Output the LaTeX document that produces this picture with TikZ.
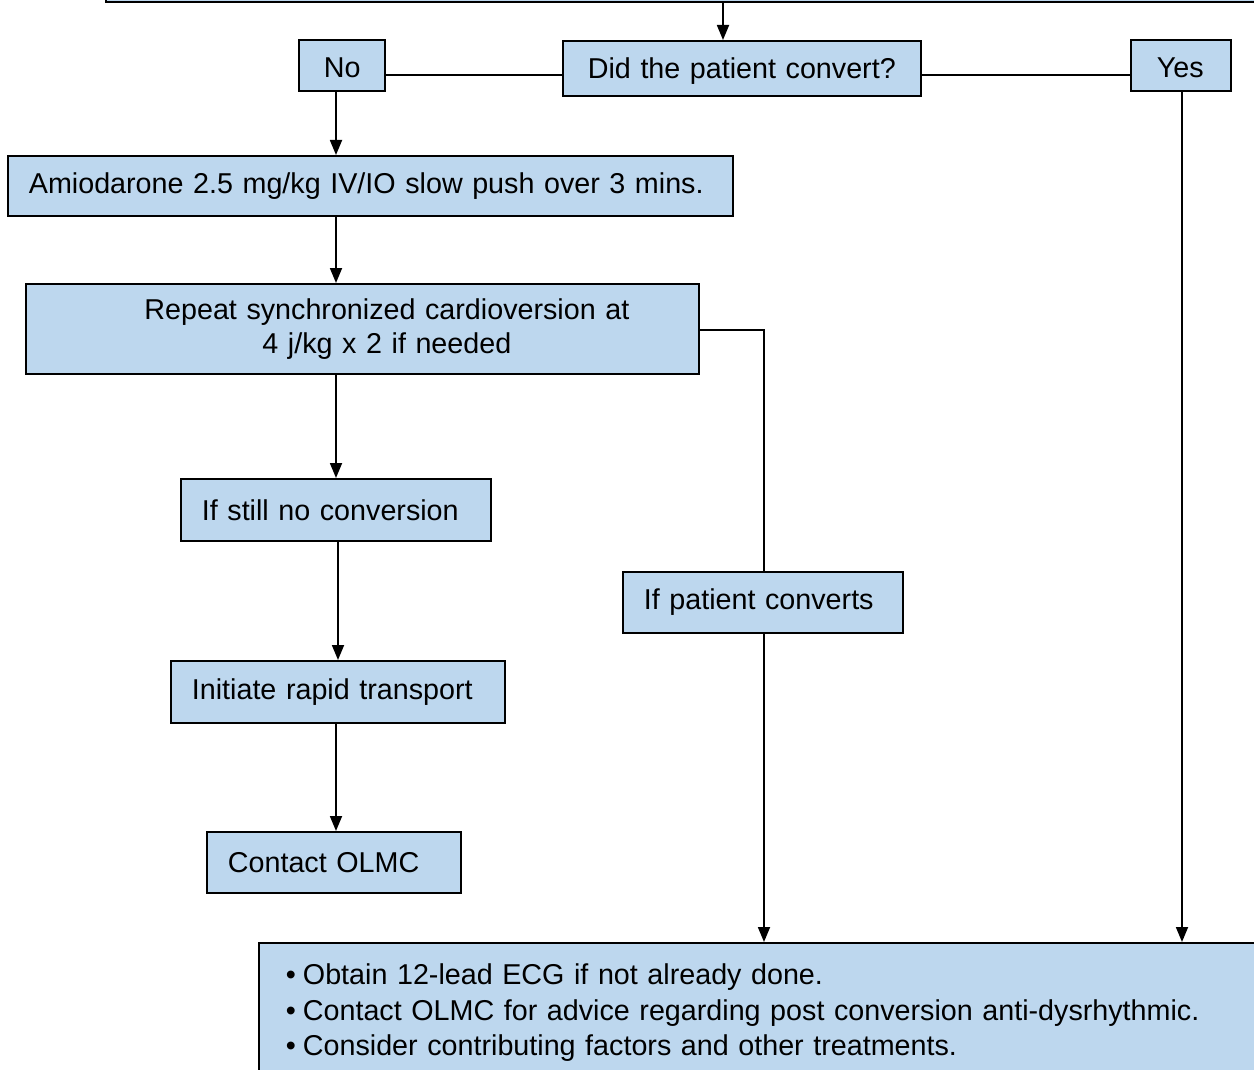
\documentclass[tikz,border=0pt]{standalone}
\usepackage{fontspec}
\setmainfont{Liberation Sans}
\usetikzlibrary{arrows.meta}
\definecolor{boxfill}{HTML}{BDD7EE}
\tikzset{
  stepbox/.style={draw=black, line width=1.8pt, fill=boxfill, anchor=north west,
    inner xsep=21pt, inner ysep=0pt, align=left, font=\fontsize{28.7}{34}\selectfont},
  link/.style={line width=1.8pt},
  flow/.style={line width=1.8pt, -{Triangle[length=15pt,width=12pt]}},
}
\begin{document}
\begin{tikzpicture}[x=1pt,y=-1pt]
\useasboundingbox (0,0) rectangle (1254,1070);
\fill[white] (0,0) rectangle (1254,1070);

% box running off the top edge
\node[stepbox, minimum width=1180pt, minimum height=40pt, anchor=south west] (top) at (105,3) {};

% decision row
\node[stepbox, text width=308pt, inner xsep=25pt, minimum height=55pt, text depth=0pt] (ask) at (562,40) {Did the patient convert?};
\node[stepbox, text width=36pt, inner xsep=25pt, minimum height=51pt, text height=25pt, text depth=0pt] (no) at (298,39) {No};
\node[stepbox, text width=48pt, inner xsep=26pt, minimum height=51pt, text height=25pt, text depth=0pt] (yes) at (1130,39) {Yes};

% "No" branch
\node[stepbox, text width=683pt, minimum height=60pt] (amio) at (7,155) {Amiodarone 2.5 mg/kg IV/IO slow push over 3 mins.};
\node[stepbox, text width=631pt, minimum height=90pt, align=center] (repeat) at (25,283)
  {\hspace*{49pt}Repeat synchronized cardioversion at\\\hspace*{49pt}4 j/kg x 2 if needed};
\node[stepbox, text width=268pt, minimum height=62pt] (still) at (180,478) {If still no conversion};
\node[stepbox, text width=292pt, minimum height=62pt] (transport) at (170,660) {Initiate rapid transport};
\node[stepbox, text width=212pt, minimum height=61pt] (olmc) at (206,831) {Contact OLMC};

% conversion branch
\node[stepbox, text width=238pt, minimum height=61pt] (converts) at (622,571) {If patient converts};

% final actions
\node[stepbox, text width=960pt, inner xsep=27pt, minimum height=140pt] (post) at (258,942)
  {•\hspace{7pt}Obtain 12-lead ECG if not already done.\\[1.5pt]
   •\hspace{7pt}Contact OLMC for advice regarding post conversion anti-dysrhythmic.\\[1.5pt]
   •\hspace{7pt}Consider contributing factors and other treatments.};

% connectors
\draw[flow] (top.south -| 723,0) -- (ask.north -| 723,0);
\draw[link] (no.east |- 0,75) -- (ask.west |- 0,75);
\draw[link] (ask.east |- 0,75) -- (yes.west |- 0,75);
\draw[flow] (no.south -| 336,0) -- (amio.north -| 336,0);
\draw[flow] (amio.south -| 336,0) -- (repeat.north -| 336,0);
\draw[flow] (repeat.south -| 336,0) -- (still.north -| 336,0);
\draw[flow] (still.south -| 338,0) -- (transport.north -| 338,0);
\draw[flow] (transport.south -| 336,0) -- (olmc.north -| 336,0);
\draw[link] (repeat.east |- 0,330) -| (converts.north -| 764,0);
\draw[flow] (converts.south -| 764,0) -- (post.north -| 764,0);
\draw[flow] (yes.south -| 1182,0) -- (post.north -| 1182,0);
\end{tikzpicture}
\end{document}
